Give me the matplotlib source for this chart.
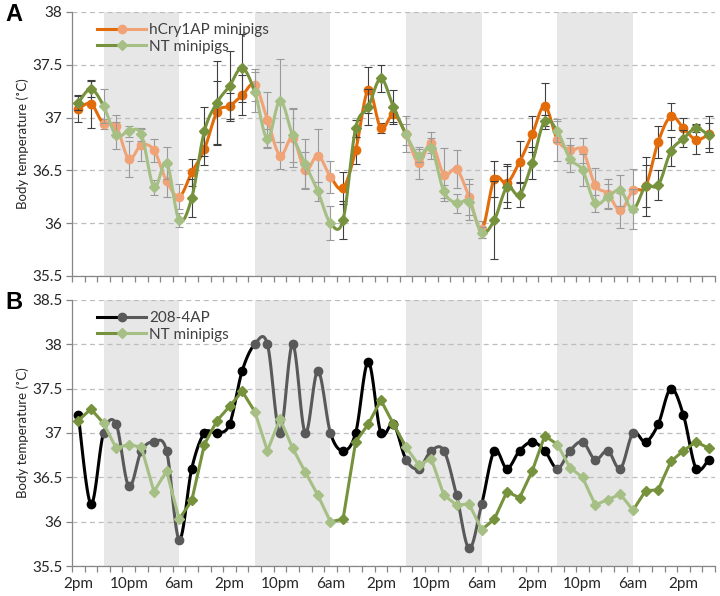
import numpy as np
import matplotlib
matplotlib.use("Agg")
import matplotlib.pyplot as plt
from matplotlib.collections import LineCollection
from matplotlib.legend_handler import HandlerBase
from matplotlib.lines import Line2D

plt.rcParams['font.family'] = ['Lato', 'DejaVu Sans']

# 2-hour samples, tick label every 8 hours
tick_labels = ['2pm', '10pm', '6am'] * 4 + ['2pm']
dark_spans = [(2, 8), (14, 20), (26, 32), (38, 44)]   # lights off, in sample index

cry_mean = [37.08, 37.13, 36.94, 36.92, 36.61, 36.74, 36.69, 36.40, 36.25, 36.48, 36.70, 37.05, 37.11,
            37.21, 37.31, 36.98, 36.64, 36.81, 36.50, 36.64, 36.44, 36.33, 36.69, 37.26, 36.90, 37.03,
            36.84, 36.57, 36.76, 36.46, 36.51, 36.25, 35.94, 36.42, 36.38, 36.58, 36.84, 37.11,
            36.79, 36.69, 36.69, 36.36, 36.28, 36.12, 36.31, 36.35, 36.77, 37.01, 36.90, 36.79, 36.84]
cry_err = [0.12, 0.23, 0.05, 0.10, 0.17, 0.15, 0.11, 0.15, 0.12, 0.13, 0.15, 0.30, 0.12,
           0.19, 0.15, 0.26, 0.13, 0.28, 0.17, 0.25, 0.15, 0.15, 0.13, 0.22, 0.05, 0.07,
           0.10, 0.15, 0.10, 0.25, 0.18, 0.17, 0.08, 0.17, 0.18, 0.20, 0.17, 0.22,
           0.20, 0.12, 0.12, 0.16, 0.14, 0.17, 0.20, 0.28, 0.15, 0.13, 0.10, 0.14, 0.17]

nt_mean = [37.14, 37.27, 37.11, 36.83, 36.87, 36.84, 36.34, 36.57, 36.03, 36.24, 36.87, 37.14, 37.30,
           37.47, 37.24, 36.80, 37.16, 36.83, 36.56, 36.30, 36.00, 36.03, 36.90, 37.10, 37.37, 37.10,
           36.84, 36.64, 36.71, 36.30, 36.19, 36.20, 35.91, 36.03, 36.34, 36.27, 36.57, 36.97,
           36.87, 36.61, 36.50, 36.19, 36.25, 36.31, 36.13, 36.35, 36.36, 36.68, 36.80, 36.90, 36.83]
nt_err = [0.07, 0.08, 0.16, 0.13, 0.05, 0.06, 0.07, 0.15, 0.07, 0.18, 0.23, 0.40, 0.33,
          0.32, 0.19, 0.09, 0.39, 0.25, 0.24, 0.09, 0.16, 0.18, 0.08, 0.17, 0.13, 0.16,
          0.17, 0.06, 0.10, 0.06, 0.09, 0.17, 0.05, 0.37, 0.20, 0.12, 0.15, 0.05,
          0.10, 0.13, 0.15, 0.08, 0.12, 0.15, 0.19, 0.20, 0.14, 0.14, 0.08, 0.04, 0.12]

ap208 = [37.2, 36.2, 37.0, 37.1, 36.4, 36.8, 36.9, 36.8, 35.8, 36.6, 37.0, 37.0, 37.1,
         37.7, 38.0, 38.0, 37.0, 38.0, 37.0, 37.7, 37.0, 36.8, 37.0, 37.8, 37.0, 37.1,
         36.7, 36.6, 36.8, 36.8, 36.3, 35.7, 36.2, 36.8, 36.6, 36.8, 36.9, 36.8, 36.6,
         36.8, 36.9, 36.7, 36.8, 36.6, 37.0, 36.9, 37.1, 37.5, 37.2, 36.6, 36.7]

x = np.arange(len(cry_mean))
is_dark = np.zeros(len(x), bool)
for a, b in dark_spans:
    is_dark[a:b + 1] = True

ORANGE = ('#E36C0A', '#F0A377')
GREEN = ('#76923C', '#A5BF84')
BLACK = ('#000000', '#595959')
SHADE = '#E7E7E7'
TXT = '#262626'


def smooth_segments(xs, ys, n=16):
    # excel-like smoothed line: bezier per segment, catmull-rom control points
    pts = np.column_stack([xs, ys]).astype(float)
    pad = np.vstack([pts[0], pts, pts[-1]])
    t = np.linspace(0, 1, n)[:, None]
    segs = []
    for i in range(len(pts) - 1):
        p0, p1, p2, p3 = pad[i], pad[i + 1], pad[i + 2], pad[i + 3]
        c1 = p1 + (p2 - p0) / 6
        c2 = p2 - (p3 - p1) / 6
        b = (1 - t) ** 3 * p1 + 3 * (1 - t) ** 2 * t * c1 + 3 * (1 - t) * t ** 2 * c2 + t ** 3 * p2
        segs.append(b)
    return segs


def draw_series(ax, ys, colors, marker, ms, smooth=True, err=None, z=3):
    ys = np.asarray(ys, float)
    if smooth:
        segs = smooth_segments(x, ys)
    else:
        segs = [np.array([[x[i], ys[i]], [x[i + 1], ys[i + 1]]]) for i in range(len(x) - 1)]
    seg_cols = [colors[1] if (is_dark[i] and is_dark[i + 1]) else colors[0] for i in range(len(segs))]
    lc = LineCollection(segs, colors=seg_cols, linewidths=2.2, capstyle='round', zorder=z)
    ax.add_collection(lc)
    if err is not None:
        err = np.asarray(err, float)
        for mask, ec in [(~is_dark, '#404040'), (is_dark, '#9A9A9A')]:
            ax.errorbar(x[mask], ys[mask], yerr=err[mask], fmt='none', ecolor=ec,
                        elinewidth=0.8, capsize=3, capthick=0.8, zorder=z - 0.5)
    for mask, c in [(~is_dark, colors[0]), (is_dark, colors[1])]:
        ax.plot(x[mask], ys[mask], ls='none', marker=marker, ms=ms, color=c,
                markeredgecolor=c, zorder=z + 0.1)


class SplitHandler(HandlerBase):
    def __init__(self, colors, marker, ms):
        super().__init__()
        self.colors, self.marker, self.ms = colors, marker, ms

    def create_artists(self, legend, orig_handle, xdescent, ydescent, width, height, fontsize, trans):
        y = height / 2 - ydescent
        x0, xm, x1 = -xdescent, width / 2 - xdescent, width - xdescent
        l1 = Line2D([x0, xm], [y, y], color=self.colors[0], lw=2.2)
        l2 = Line2D([xm, x1], [y, y], color=self.colors[1], lw=2.2)
        m = Line2D([xm], [y], ls='none', marker=self.marker, ms=self.ms,
                   color=self.colors[1], markeredgecolor=self.colors[1])
        for a in (l1, l2, m):
            a.set_transform(trans)
        return [l1, l2, m]


def style_axes(ax, ylo, yhi, show_labels):
    for a, b in dark_spans:
        ax.axvspan(a, b, color=SHADE, lw=0, zorder=0)
    ax.set_xlim(-0.5, len(x) - 0.5)
    ax.set_ylim(ylo, yhi)
    yt = np.arange(ylo, yhi + 0.01, 0.5)
    ax.set_yticks(yt)
    ax.set_yticklabels([f'{v:g}' for v in yt])
    ax.yaxis.grid(True, ls=(0, (4, 3)), color='#BDBDBD', lw=0.9)
    ax.set_axisbelow(True)
    ax.set_xticks(x[::4])
    ax.set_xticklabels(tick_labels if show_labels else [])
    ax.set_xticks(np.arange(-0.5, len(x), 1.0), minor=True)
    ax.tick_params(axis='x', which='major', length=0, labelsize=11, colors=TXT, pad=8)
    ax.tick_params(axis='x', which='minor', length=4, color='#868686', width=0.9)
    ax.tick_params(axis='y', length=4, color='#868686', width=0.9, labelsize=11, labelcolor=TXT, pad=3)
    for s in ('top', 'right'):
        ax.spines[s].set_visible(False)
    for s in ('left', 'bottom'):
        ax.spines[s].set_color('#868686')
        ax.spines[s].set_linewidth(0.9)
    ax.set_ylabel('Body temperature (˚C)', fontsize=9.5, color=TXT, labelpad=2)


fig = plt.figure(figsize=(7.2, 5.96), dpi=100)
axA = fig.add_axes([0.1, 0.537, 0.893, 0.443])
axB = fig.add_axes([0.1, 0.050, 0.893, 0.447])

style_axes(axA, 35.5, 38.0, False)
draw_series(axA, cry_mean, ORANGE, 'o', 6, err=cry_err, z=3)
draw_series(axA, nt_mean, GREEN, 'D', 5, err=nt_err, z=4)
hA = [Line2D([], []), Line2D([], [])]
legA = axA.legend(hA, ['hCry1AP minipigs', 'NT minipigs'], loc='upper left',
                  bbox_to_anchor=(0.03, 0.98), frameon=False, fontsize=11, handlelength=3.2,
                  handletextpad=0.2, labelspacing=0.15, borderaxespad=0,
                  handler_map={hA[0]: SplitHandler(ORANGE, 'o', 6), hA[1]: SplitHandler(GREEN, 'D', 5)})
for t in legA.get_texts():
    t.set_color('#404040')

style_axes(axB, 35.5, 38.5, True)
draw_series(axB, ap208, BLACK, 'o', 6, z=3)
draw_series(axB, nt_mean, GREEN, 'D', 5, smooth=False, z=4)
hB = [Line2D([], []), Line2D([], [])]
legB = axB.legend(hB, ['208-4AP', 'NT minipigs'], loc='upper left',
                  bbox_to_anchor=(0.03, 0.98), frameon=False, fontsize=11, handlelength=3.2,
                  handletextpad=0.2, labelspacing=0.15, borderaxespad=0,
                  handler_map={hB[0]: SplitHandler(BLACK, 'o', 6), hB[1]: SplitHandler(GREEN, 'D', 5)})
for t in legB.get_texts():
    t.set_color('#404040')

fig.text(0.008, 0.975, 'A', fontsize=17, fontweight='bold', family='Liberation Sans', va='center')
fig.text(0.008, 0.492, 'B', fontsize=17, fontweight='bold', family='Liberation Sans', va='center')

fig.savefig('out.png', dpi=100)
